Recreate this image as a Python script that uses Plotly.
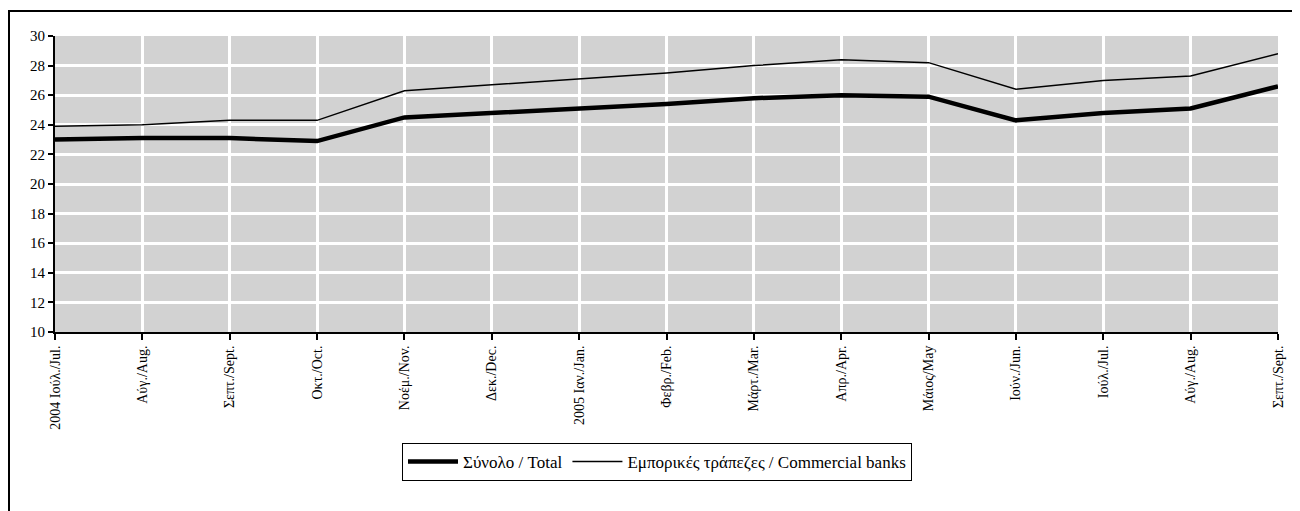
import plotly.graph_objects as go

month_labels = ["2004 Ιούλ./Jul.", "Αύγ./Aug.", "Σεπτ./Sept.", "Οκτ./Oct.", "Νοέμ./Nov.",
                "Δεκ./Dec.", "2005 Ιαν./Jan.", "Φεβρ./Feb.", "Μάρτ./Mar.", "Απρ./Apr.",
                "Μάιος/May", "Ιούν./Jun.", "Ιούλ./Jul.", "Αύγ./Aug.", "Σεπτ./Sept."]
total = [23.0, 23.1, 23.1, 22.9, 24.5, 24.8, 25.1, 25.4, 25.8, 26.0, 25.9, 24.3, 24.8, 25.1, 26.6]
commercial = [23.9, 24.0, 24.3, 24.3, 26.3, 26.7, 27.1, 27.5, 28.0, 28.4, 28.2, 26.4, 27.0, 27.3, 28.8]
y_ticks = [10, 12, 14, 16, 18, 20, 22, 24, 26, 28, 30]

x = list(range(len(month_labels)))
font_family = "Liberation Serif"

fig = go.Figure()
fig.add_trace(go.Scatter(x=x, y=total, mode="lines", name="Σύνολο / Total",
                         line=dict(color="black", width=4.5)))
fig.add_trace(go.Scatter(x=x, y=commercial, mode="lines",
                         name="Εμπορικές τράπεζες / Commercial banks",
                         line=dict(color="black", width=1.5)))

OFF = 8  # page body margin
W, H = 1300 - OFF, 511 - OFF
L = 55 - OFF
T = 36 - OFF
R = W - (1278 - OFF)
B = H - (332 - OFF)
pw = W - L - R
ph = H - T - B

def px_to_paper_x(px):
    return (px - OFF - L) / pw

def px_to_paper_y(py):
    return ((332 - py)) / ph

fig.update_layout(
    width=W, height=H,
    margin=dict(l=L, r=R, t=T, b=B, pad=0),
    paper_bgcolor="white",
    plot_bgcolor="#d2d2d2",
    font=dict(family=font_family, color="black", size=14),
    showlegend=True,
    legend=dict(orientation="h", x=px_to_paper_x(657), xanchor="center",
                y=px_to_paper_y(443), yanchor="top",
                bordercolor="black", borderwidth=1, bgcolor="white",
                font=dict(family=font_family, size=17, color="black"),
                itemwidth=50),
    shapes=[dict(type="rect", xref="paper", yref="paper",
                 x0=px_to_paper_x(9), x1=px_to_paper_x(1330),
                 y0=px_to_paper_y(540), y1=px_to_paper_y(11),
                 line=dict(color="black", width=2), fillcolor="rgba(0,0,0,0)",
                 layer="below")],
)
fig.update_xaxes(range=[0, len(x) - 1], tickmode="array", tickvals=x, ticktext=month_labels,
                 tickangle=-90, showgrid=True, gridcolor="white", gridwidth=3,
                 showline=True, linecolor="black", linewidth=2,
                 ticks="outside", ticklen=6, tickwidth=2, tickcolor="black",
                 tickfont=dict(family=font_family, size=14, color="black"),
                 zeroline=False, fixedrange=True)
fig.update_yaxes(range=[10, 30], tickmode="array", tickvals=y_ticks,
                 showgrid=True, gridcolor="white", gridwidth=3,
                 showline=True, linecolor="black", linewidth=2,
                 ticks="outside", ticklen=5, tickwidth=2, tickcolor="black",
                 tickfont=dict(family=font_family, size=15, color="black"),
                 zeroline=False, fixedrange=True)

fig.write_html("out.html")
